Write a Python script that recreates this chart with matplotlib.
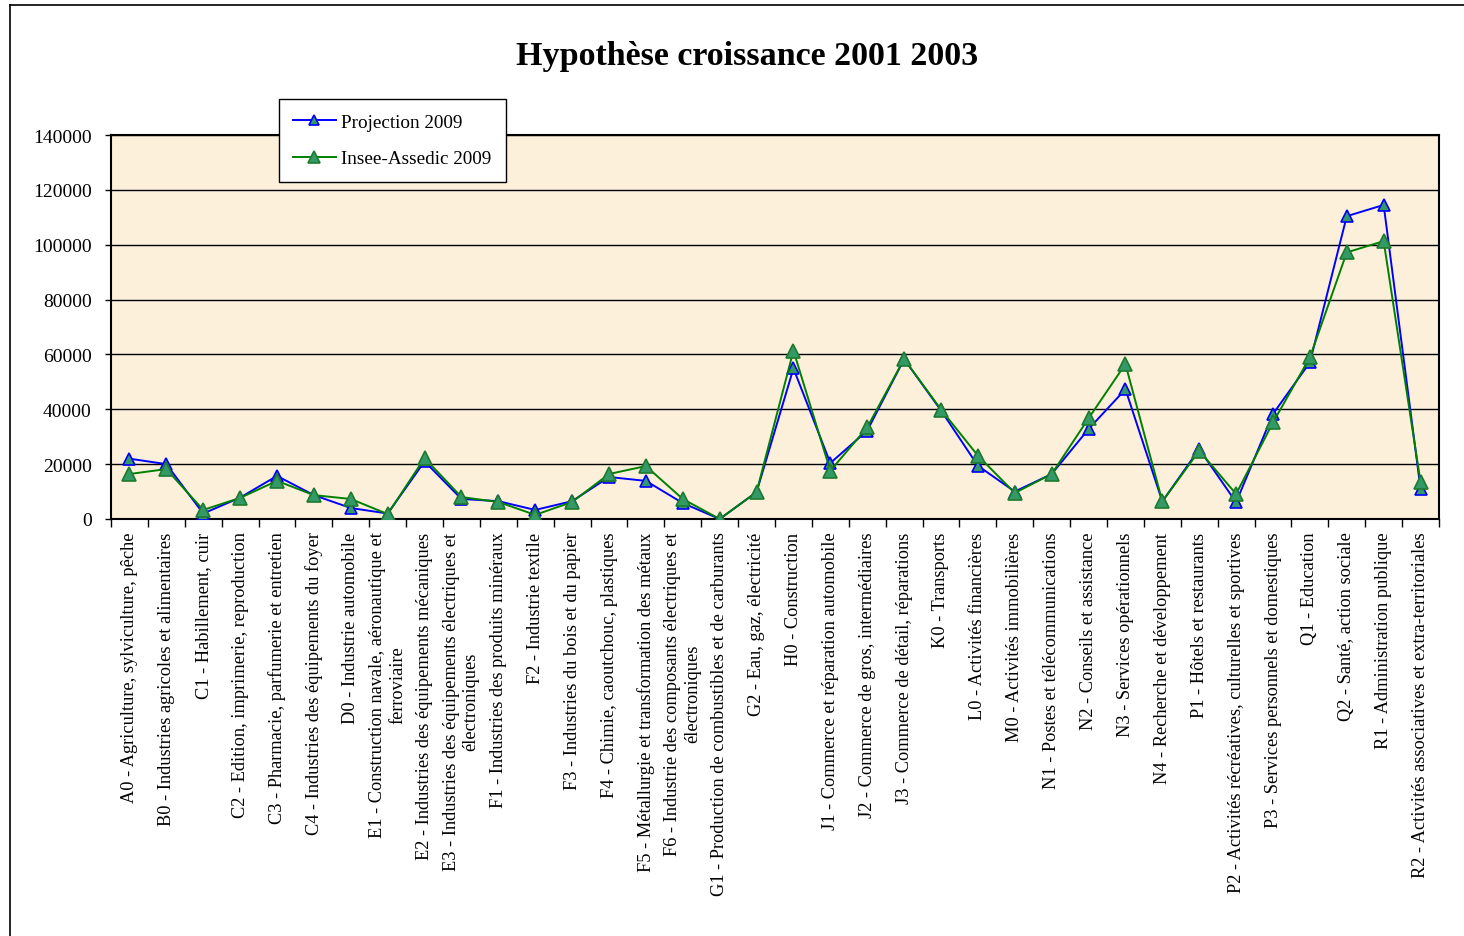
import matplotlib.pyplot as plt
import numpy as np
from matplotlib.lines import Line2D

plt.rcParams['font.family'] = ['Liberation Serif', 'DejaVu Serif']

secteurs = [
    "A0 - Agriculture, sylviculture, pêche",
    "B0 - Industries agricoles et alimentaires",
    "C1 - Habillement, cuir",
    "C2 - Edition, imprimerie, reproduction",
    "C3 - Pharmacie, parfumerie et entretien",
    "C4 - Industries des équipements du foyer",
    "D0 - Industrie automobile",
    "E1 - Construction navale, aéronautique et\nferroviaire",
    "E2 - Industries des équipements mécaniques",
    "E3 - Industries des équipements électriques et\nélectroniques",
    "F1 - Industries des produits minéraux",
    "F2 - Industrie textile",
    "F3 - Industries du bois et du papier",
    "F4 - Chimie, caoutchouc, plastiques",
    "F5 - Métallurgie et transformation des métaux",
    "F6 - Industrie des composants électriques et\nélectroniques",
    "G1 - Production de combustibles et de carburants",
    "G2 - Eau, gaz, électricité",
    "H0 - Construction",
    "J1 - Commerce et réparation automobile",
    "J2 - Commerce de gros, intermédiaires",
    "J3 - Commerce de détail, réparations",
    "K0 - Transports",
    "L0 - Activités financières",
    "M0 - Activités immobilières",
    "N1 - Postes et télécommunications",
    "N2 - Conseils et assistance",
    "N3 - Services opérationnels",
    "N4 - Recherche et développement",
    "P1 - Hôtels et restaurants",
    "P2 - Activités récréatives, culturelles et sportives",
    "P3 - Services personnels et domestiques",
    "Q1 - Education",
    "Q2 - Santé, action sociale",
    "R1 - Administration publique",
    "R2 - Activités associatives et extra-territoriales",
]

projection = [22000, 20000, 2000, 7800, 15700, 8700, 4000, 2000, 21000, 7300,
              6500, 3300, 6500, 15300, 13900, 5800, 0, 9800, 54900, 20400,
              32200, 58300, 39600, 19400, 10000, 16400, 32800, 47300, 6400, 25500,
              6100, 38300, 57100, 110400, 114500, 11000]
insee = [16400, 18200, 3300, 7700, 13900, 8700, 7300, 1800, 22200, 8000,
         6200, 1500, 6200, 16400, 19300, 7300, 0, 9800, 61400, 17600,
         33400, 58300, 39900, 23100, 9500, 16400, 36700, 56500, 6400, 24900,
         9100, 35200, 58900, 97200, 101300, 13400]

fig = plt.figure(figsize=(14.64, 9.37), dpi=100)
ax = fig.add_axes([111/1464, 1-520/937, 1328/1464, 384/937])

x = np.arange(len(secteurs))
ax.set_facecolor('#FCF0DA')
ax.plot(x, projection, color='#0000FF', lw=1.4, marker='^', ms=9,
        mfc='#339966', mec='#0000FF', mew=1.2, label='Projection 2009', zorder=3)
ax.plot(x, insee, color='#008000', lw=1.4, marker='^', ms=10,
        mfc='#339966', mec='#1E7A2E', mew=1.2, label='Insee-Assedic 2009', zorder=4)

ax.set_xlim(-0.5, len(secteurs) - 0.5)
ax.set_ylim(0, 140000)
ax.set_yticks(np.arange(0, 140001, 20000))
ax.yaxis.grid(True, color='black', lw=1)
ax.set_axisbelow(True)
ax.tick_params(axis='y', labelsize=14, length=4, width=1, pad=10)

ax.set_xticks(x)
ax.set_xticklabels(secteurs, rotation=90, fontsize=13.2, ha='center', va='top',
                   multialignment='center')
ax.set_xticks(np.arange(-0.5, len(secteurs), 1), minor=True)
ax.tick_params(axis='x', which='major', length=0, pad=9)
ax.tick_params(axis='x', which='minor', length=6, width=1, direction='out')
for s in ax.spines.values():
    s.set_linewidth(1.5)

fig.text(0.5 + 15/1464, 1-57/937, "Hypothèse croissance 2001 2003", ha='center', va='center',
         fontsize=24.5, fontweight='bold')

fig.legend(loc='upper left', bbox_to_anchor=(279/1464, 1-100/937), fontsize=13.8,
           frameon=True, fancybox=False, edgecolor='black', framealpha=1,
           borderaxespad=0, borderpad=0.75, labelspacing=1.0, handlelength=2.2,
           handletextpad=0.3, markerscale=0.8)

# cadre du graphique
fig.add_artist(Line2D([10/1464, 10/1464], [0, 1-6/937], color='black', lw=1.2))
fig.add_artist(Line2D([10/1464, 1], [1-6/937, 1-6/937], color='black', lw=1.2))

fig.savefig('out.png', dpi=100)
